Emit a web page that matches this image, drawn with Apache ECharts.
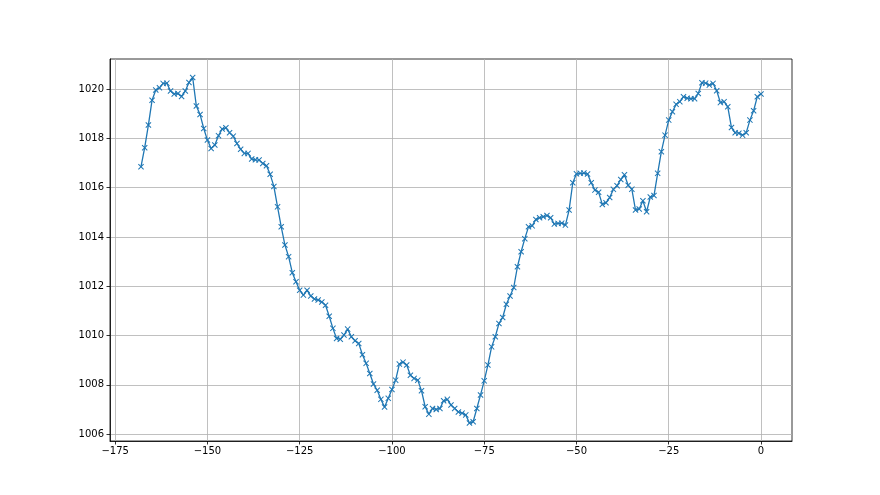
<!DOCTYPE html>
<html><head><meta charset="utf-8">
<script src="https://cdn.jsdelivr.net/npm/echarts@6/dist/echarts.min.js"></script>
<style>html,body{margin:0;padding:0;background:#fff}#c{width:880px;height:495px}</style>
</head><body><div id="c"></div><script>
const hours = [-168,-167,-166,-165,-164,-163,-162,-161,-160,-159,-158,-157,-156,-155,-154,-153,-152,-151,-150,-149,-148,-147,-146,-145,-144,-143,-142,-141,-140,-139,-138,-137,-136,-135,-134,-133,-132,-131,-130,-129,-128,-127,-126,-125,-124,-123,-122,-121,-120,-119,-118,-117,-116,-115,-114,-113,-112,-111,-110,-109,-108,-107,-106,-105,-104,-103,-102,-101,-100,-99,-98,-97,-96,-95,-94,-93,-92,-91,-90,-89,-88,-87,-86,-85,-84,-83,-82,-81,-80,-79,-78,-77,-76,-75,-74,-73,-72,-71,-70,-69,-68,-67,-66,-65,-64,-63,-62,-61,-60,-59,-58,-57,-56,-55,-54,-53,-52,-51,-50,-49,-48,-47,-46,-45,-44,-43,-42,-41,-40,-39,-38,-37,-36,-35,-34,-33,-32,-31,-30,-29,-28,-27,-26,-25,-24,-23,-22,-21,-20,-19,-18,-17,-16,-15,-14,-13,-12,-11,-10,-9,-8,-7,-6,-5,-4,-3,-2,-1,0];
const pressure = [
1016.85,1017.62,1018.54,1019.55,1019.96,1020.05,1020.23,1020.24,1019.92,1019.80,
1019.82,1019.70,1019.92,1020.27,1020.47,1019.31,1018.97,1018.40,1017.93,1017.59,
1017.73,1018.11,1018.38,1018.43,1018.23,1018.09,1017.79,1017.56,1017.39,1017.39,
1017.16,1017.13,1017.12,1016.98,1016.89,1016.54,1016.05,1015.22,1014.41,1013.67,
1013.20,1012.55,1012.18,1011.84,1011.64,1011.84,1011.60,1011.48,1011.44,1011.36,
1011.23,1010.78,1010.29,1009.88,1009.85,1010.02,1010.26,1009.95,1009.79,1009.68,
1009.22,1008.87,1008.46,1008.03,1007.78,1007.41,1007.10,1007.45,1007.81,1008.19,
1008.84,1008.92,1008.80,1008.39,1008.26,1008.19,1007.76,1007.11,1006.81,1007.04,
1007.00,1007.04,1007.35,1007.41,1007.18,1007.04,1006.90,1006.85,1006.78,1006.45,
1006.50,1007.04,1007.59,1008.16,1008.80,1009.54,1009.95,1010.49,1010.73,1011.27,
1011.60,1011.95,1012.79,1013.40,1013.93,1014.41,1014.45,1014.71,1014.78,1014.82,
1014.87,1014.78,1014.52,1014.55,1014.56,1014.48,1015.09,1016.20,1016.56,1016.58,
1016.59,1016.55,1016.20,1015.90,1015.81,1015.32,1015.39,1015.60,1015.93,1016.08,
1016.33,1016.52,1016.10,1015.94,1015.09,1015.13,1015.47,1015.02,1015.62,1015.68,
1016.58,1017.46,1018.13,1018.74,1019.08,1019.38,1019.49,1019.69,1019.63,1019.61,
1019.61,1019.82,1020.26,1020.24,1020.16,1020.23,1019.93,1019.45,1019.49,1019.28,
1018.44,1018.23,1018.21,1018.13,1018.23,1018.74,1019.12,1019.69,1019.80];
const xTicks = [-175,-150,-125,-100,-75,-50,-25,0];
const yTicks = [1006,1008,1010,1012,1014,1016,1018,1020];

const fmt = v => String(v).replace('-', '\u2212');
const font = {fontFamily: 'DejaVu Sans', fontSize: 10, color: '#000'};
const chart = echarts.init(document.getElementById('c'), null, {renderer: 'canvas'});
chart.setOption({
  animation: false,
  backgroundColor: '#fff',
  grid: {left: 110, right: 88, top: 59, bottom: 54, show: true, borderColor: '#000', borderWidth: 0.8, backgroundColor: 'transparent'},
  xAxis: {
    type: 'value', min: -176.4, max: 8.4,
    axisLine: {show: true, onZero: false, lineStyle: {color: '#000', width: 0.8}},
    axisTick: {show: true, customValues: xTicks, length: 3.5, lineStyle: {color: '#000', width: 0.8}},
    axisLabel: Object.assign({customValues: xTicks, formatter: fmt, margin: 5}, font),
    splitLine: {show: true, lineStyle: {color: '#b0b0b0', width: 0.8}}
  },
  yAxis: {
    type: 'value', min: 1005.72, max: 1021.22,
    axisLine: {show: true, onZero: false, lineStyle: {color: '#000', width: 0.8}},
    axisTick: {show: true, customValues: yTicks, length: 3.5, lineStyle: {color: '#000', width: 0.8}},
    axisLabel: Object.assign({customValues: yTicks, formatter: fmt, margin: 6}, font),
    splitLine: {show: true, lineStyle: {color: '#b0b0b0', width: 0.8}}
  },
  series: [{
    type: 'line',
    data: hours.map((h, i) => [h, pressure[i]]),
    symbol: 'path://M0,1.2L1.2,0L5,3.8L8.8,0L10,1.2L6.2,5L10,8.8L8.8,10L5,6.2L1.2,10L0,8.8L3.8,5Z',
    symbolSize: 6,
    showSymbol: true,
    showAllSymbol: true,
    itemStyle: {color: '#1f77b4'},
    lineStyle: {color: '#1f77b4', width: 1.3},
    emphasis: {disabled: true}
  }]
});
</script></body></html>
